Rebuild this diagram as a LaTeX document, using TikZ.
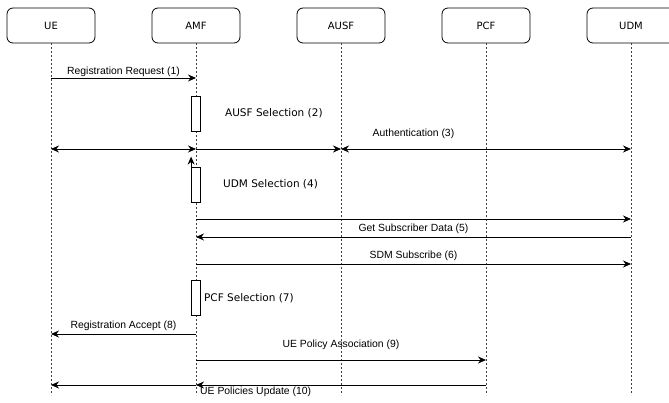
\documentclass[tikz,border=0pt]{standalone}
\usepackage{fontspec}
\setmainfont{Liberation Sans}
\newfontfamily\boxfont{DejaVu Sans}
\usetikzlibrary{positioning,arrows.meta}

\begin{document}
\begin{tikzpicture}[x=1pt,y=-1pt,
entity/.style={draw, line width=0.8pt, rounded corners=6pt, minimum width=88pt, minimum height=35pt, font=\boxfont\fontsize{10}{12}\selectfont},
life/.style={dash pattern=on 2pt off 2pt, line width=0.8pt, black!75},
msg/.style={-{Stealth[length=8pt,width=7pt]}, line width=0.9pt},
msgs/.style={{Stealth[length=8pt,width=7pt]}-{Stealth[length=8pt,width=7pt]}, line width=0.9pt},
bar/.style={draw, line width=0.8pt, fill=white, minimum width=9pt, minimum height=35pt, inner sep=0pt},
lbl/.style={font=\fontsize{10.4}{12}\selectfont, inner sep=1pt},
sel/.style={font=\boxfont\fontsize{10.5}{12}\selectfont, inner sep=0pt}]

\useasboundingbox (0,0) rectangle (669,403);

\node[entity] (ue) at (51,25.5) {UE};
\node[entity, right=56.2pt of ue] (amf) {AMF};
\node[entity, right=56.2pt of amf] (ausf) {AUSF};
\node[entity, right=56.2pt of ausf] (pcf) {PCF};
\node[entity, right=56.2pt of pcf] (udm) {UDM};

\foreach \n in {ue,amf,ausf,pcf,udm}
    \draw[life] (\n.south) -- ++(0,-352pt);

\coordinate (m1) at (0,78);
\coordinate (m2) at (0,113.5);
\coordinate (m3) at (0,149);
\coordinate (m4) at (0,184.5);
\coordinate (m5a) at (0,219);
\coordinate (m5b) at (0,237);
\coordinate (m6) at (0,264);
\coordinate (m7) at (0,298);
\coordinate (m8) at (0,334);
\coordinate (m9) at (0,360);
\coordinate (m10) at (0,385);

\draw[msg] (ue |- m1) -- node[lbl, above] {Registration Request (1)} (amf |- m1);

\node[bar] (sel2) at (amf |- m2) {};
\node[sel, right=24pt of sel2] {AUSF Selection (2)};

\draw[msgs] (ue |- m3) -- (amf |- m3);
\draw[msg] (amf |- m3) -- (ausf |- m3);
\draw[msgs] (ausf |- m3) -- node[lbl, above=9pt, pos=0.25] {Authentication (3)} (udm |- m3);

\node[bar] (sel4) at (amf |- m4) {};
\node[sel, right=22pt of sel4] {UDM Selection (4)};
\draw[msg] (sel4.north west) -- ++(0,10pt);

\draw[msg] (amf |- m5a) -- (udm |- m5a);
\draw[msg] (udm |- m5b) -- node[lbl, above=2pt] {Get Subscriber Data (5)} (amf |- m5b);
\draw[msg] (amf |- m6) -- node[lbl, above=2pt] {SDM Subscribe (6)} (udm |- m6);

\node[bar] (sel7) at (amf |- m7) {};
\node[sel, right=3pt of sel7] {PCF Selection (7)};

\draw[msg] (amf |- m8) -- node[lbl, above=2pt] {Registration Accept (8)} (ue |- m8);
\draw[msg] (amf |- m9) -- node[lbl, above=9pt] {UE Policy Association (9)} (pcf |- m9);

\coordinate (a10) at (amf |- m10);
\draw[msg] (pcf |- m10) -- (a10);
\draw[msg] (a10) -- (ue |- m10);
\node[lbl, below right=1pt and 3pt of a10] {UE Policies Update (10)};

\end{tikzpicture}
\end{document}
